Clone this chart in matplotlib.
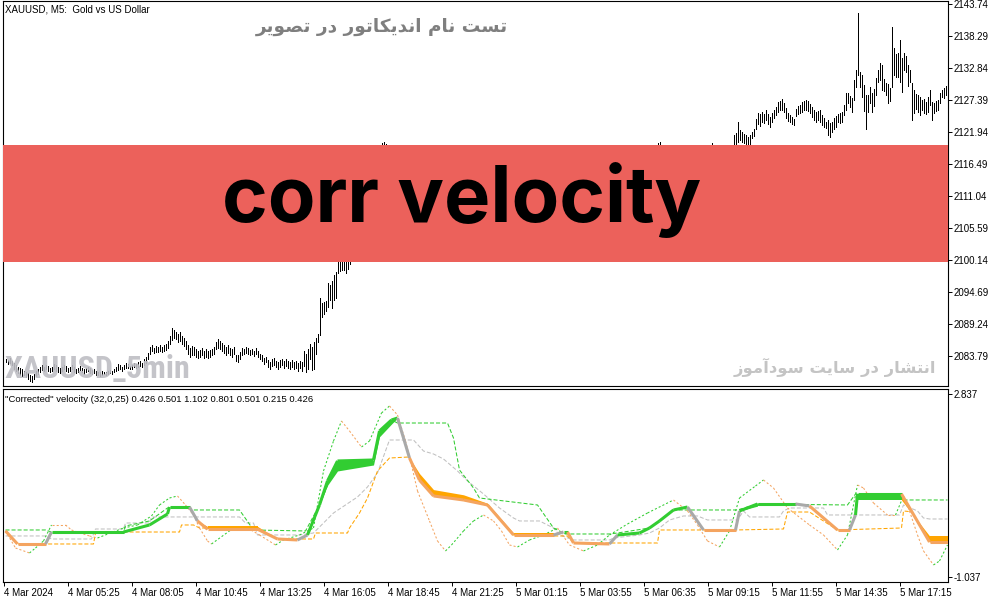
import matplotlib
matplotlib.use("Agg")
import matplotlib.pyplot as plt
from matplotlib.collections import LineCollection
from matplotlib.patches import Rectangle

plt.rcParams['font.family'] = ['Liberation Sans', 'DejaVu Sans']
plt.rcParams['lines.scale_dashes'] = False

# ---------------- data ----------------
price_ticks = [2143.74, 2138.29, 2132.84, 2127.39, 2121.94, 2116.49, 2111.04,
               2105.59, 2100.14, 2094.69, 2089.24, 2083.79]
vel_ticks = [2.837, -1.037]
time_labels = ['4 Mar 2024', '4 Mar 05:25', '4 Mar 08:05', '4 Mar 10:45', '4 Mar 13:25',
               '4 Mar 16:05', '4 Mar 18:45', '4 Mar 21:25', '5 Mar 01:15', '5 Mar 03:55',
               '5 Mar 06:35', '5 Mar 09:15', '5 Mar 11:55', '5 Mar 14:35', '5 Mar 17:15']
time_label_bars = [-1, 31, 63, 95, 127, 159, 191, 223, 255, 287, 319, 351, 383, 415, 447]

# M5 bars, first visible stretch (bars 0..175)
left_high = [
    2083.3, 2083.1, 2083.4, 2083.0, 2082.6, 2082.2, 2082.0, 2081.8, 2081.5, 2081.3, 2081.1, 2080.9, 2080.6, 2080.4, 2080.8, 2081.2,
    2081.6, 2081.9, 2082.2, 2082.0, 2082.3, 2082.1, 2081.8, 2082.0, 2082.4, 2082.2, 2081.9, 2081.7, 2082.0, 2082.3, 2082.1, 2081.8,
    2082.0, 2082.2, 2081.9, 2081.6, 2081.8, 2082.1, 2081.8, 2081.5, 2081.7, 2082.0, 2081.7, 2081.4, 2081.6, 2081.3, 2081.1, 2081.0,
    2081.2, 2081.1, 2081.0, 2081.2, 2081.4, 2081.3, 2081.5, 2081.9, 2082.4, 2082.2, 2082.0, 2082.3, 2082.6, 2082.4, 2082.1, 2082.3,
    2082.6, 2082.5, 2082.7, 2082.9, 2082.6, 2083.2, 2083.6, 2084.3, 2085.3, 2085.6, 2085.2, 2085.5, 2085.3, 2085.6, 2085.4, 2085.7,
    2085.9, 2086.4, 2087.2, 2088.6, 2088.2, 2087.9, 2087.6, 2087.8, 2087.2, 2086.8, 2086.3, 2085.7, 2085.2, 2085.5, 2085.3, 2085.0,
    2084.6, 2084.8, 2085.1, 2084.7, 2084.9, 2084.6, 2084.8, 2085.0, 2085.3, 2086.2, 2086.6, 2086.3, 2086.0, 2085.6, 2085.4, 2085.7,
    2085.2, 2084.9, 2085.3, 2084.0, 2083.9, 2084.5, 2085.2, 2085.0, 2085.3, 2085.1, 2084.8, 2085.0, 2084.7, 2085.1, 2084.6, 2084.2,
    2083.9, 2083.5, 2083.7, 2083.1, 2082.8, 2083.2, 2083.4, 2083.0, 2082.7, 2083.1, 2083.3, 2082.9, 2083.2, 2083.0, 2082.8, 2083.1,
    2082.7, 2082.9, 2082.6, 2083.0, 2082.8, 2084.6, 2084.2, 2084.9, 2085.8, 2085.4, 2086.1, 2086.9, 2087.5, 2093.6, 2092.9, 2093.0,
    2093.2, 2096.3, 2095.8, 2096.5, 2097.5, 2098.1, 2099.8, 2099.9, 2100.4, 2100.6, 2100.9, 2101.5, 2102.1, 2102.6, 2103.2, 2103.8]
left_low = [
    2082.7, 2082.4, 2082.6, 2082.2, 2081.6, 2081.2, 2080.9, 2080.6, 2080.4, 2080.5, 2080.2, 2079.9, 2079.5, 2079.3, 2079.8, 2080.3,
    2080.8, 2081.1, 2081.4, 2081.2, 2081.5, 2081.3, 2081.0, 2081.2, 2081.6, 2081.3, 2081.0, 2080.9, 2081.2, 2081.5, 2081.3, 2081.0,
    2081.3, 2081.5, 2081.1, 2080.9, 2081.0, 2081.4, 2081.1, 2080.8, 2081.0, 2081.2, 2080.9, 2080.7, 2080.9, 2080.6, 2080.5, 2080.4,
    2080.6, 2080.7, 2080.6, 2080.8, 2080.9, 2080.8, 2081.0, 2081.2, 2081.4, 2081.5, 2081.3, 2081.6, 2081.8, 2081.7, 2081.5, 2081.6,
    2081.9, 2081.8, 2082.0, 2082.1, 2081.9, 2082.3, 2082.6, 2083.2, 2084.2, 2084.6, 2084.3, 2084.5, 2084.4, 2084.7, 2084.5, 2084.6,
    2084.8, 2085.2, 2085.8, 2086.5, 2086.9, 2086.6, 2086.2, 2086.4, 2085.9, 2085.5, 2084.9, 2084.1, 2083.6, 2084.0, 2083.9, 2083.7,
    2083.5, 2083.6, 2083.9, 2083.5, 2083.7, 2083.4, 2083.6, 2083.9, 2084.2, 2084.9, 2085.2, 2084.9, 2084.6, 2084.3, 2084.0, 2084.3,
    2083.9, 2083.7, 2084.1, 2082.9, 2082.7, 2083.2, 2084.0, 2084.2, 2084.3, 2084.1, 2083.9, 2084.1, 2083.8, 2084.2, 2083.7, 2083.2,
    2082.9, 2082.4, 2082.7, 2082.0, 2081.6, 2082.1, 2082.3, 2081.9, 2081.5, 2082.0, 2082.2, 2081.8, 2082.1, 2081.8, 2081.6, 2082.0,
    2081.6, 2081.8, 2081.3, 2081.7, 2081.2, 2082.1, 2081.0, 2081.5, 2083.2, 2081.4, 2081.6, 2084.2, 2086.1, 2087.4, 2090.4, 2090.9,
    2091.5, 2092.1, 2093.4, 2091.9, 2093.3, 2093.6, 2097.9, 2098.3, 2098.5, 2098.4, 2097.9, 2098.6, 2099.5, 2099.9, 2100.8, 2101.2]

# bars behind the label band: only the tips that stick out are readable
mid_bars = [188, 189, 190, 326, 327, 353]
mid_high = [2120.0, 2120.2, 2119.9, 2120.0, 2120.2, 2120.1]
mid_low = [2117.2, 2117.8, 2117.5, 2117.4, 2117.9, 2117.6]

# last visible stretch (bars 364..471)
right_high = [
    2121.4, 2121.8, 2123.6, 2122.3, 2121.9, 2121.6, 2121.4, 2121.1, 2121.4, 2122.0, 2122.4, 2124.2, 2125.2, 2125.0, 2125.3, 2125.0,
    2125.7, 2125.0, 2124.5, 2125.2, 2125.7, 2126.2, 2127.1, 2127.3, 2127.6, 2126.9, 2126.0, 2125.2, 2124.8, 2124.5, 2124.2, 2125.9,
    2126.4, 2126.6, 2127.0, 2127.3, 2127.4, 2127.2, 2126.7, 2126.2, 2125.7, 2125.3, 2125.6, 2125.7, 2124.8, 2124.3, 2123.6, 2124.0,
    2123.5, 2123.7, 2124.3, 2124.6, 2125.0, 2125.2, 2125.4, 2126.5, 2128.6, 2128.6, 2128.0, 2127.7, 2130.8, 2132.5, 2142.2, 2132.2,
    2131.6, 2130.0, 2128.3, 2128.2, 2129.6, 2128.6, 2129.2, 2131.1, 2132.5, 2133.7, 2133.4, 2131.0, 2130.3, 2130.1, 2129.4, 2139.8,
    2136.3, 2135.2, 2135.4, 2137.6, 2134.5, 2135.4, 2134.9, 2133.3, 2132.5, 2130.3, 2129.1, 2128.4, 2128.2, 2127.9, 2127.4, 2127.6,
    2127.1, 2127.9, 2129.1, 2127.0, 2126.9, 2127.2, 2127.4, 2128.6, 2129.1, 2129.4, 2129.8, 2130.1]
right_low = [
    2119.7, 2119.8, 2120.2, 2120.6, 2120.3, 2120.1, 2119.9, 2119.8, 2119.7, 2120.9, 2121.3, 2122.5, 2123.3, 2123.0, 2123.6, 2123.4,
    2124.0, 2123.3, 2122.8, 2123.6, 2124.3, 2124.8, 2125.4, 2125.7, 2125.7, 2125.3, 2124.3, 2123.8, 2123.6, 2123.3, 2123.1, 2124.6,
    2125.0, 2125.2, 2125.4, 2125.7, 2125.7, 2125.5, 2125.2, 2124.5, 2124.0, 2123.6, 2124.0, 2123.6, 2123.2, 2122.8, 2122.6, 2121.4,
    2121.1, 2121.9, 2122.4, 2122.8, 2123.6, 2123.5, 2123.7, 2124.8, 2125.7, 2126.9, 2126.2, 2125.4, 2127.4, 2129.6, 2131.6, 2129.6,
    2127.9, 2125.5, 2122.5, 2125.3, 2126.9, 2125.3, 2126.3, 2128.2, 2130.5, 2130.8, 2129.1, 2128.9, 2128.2, 2126.9, 2127.3, 2129.6,
    2131.7, 2131.3, 2131.3, 2130.5, 2128.8, 2132.5, 2132.2, 2129.8, 2130.5, 2124.0, 2125.2, 2125.9, 2125.3, 2124.8, 2125.7, 2125.2,
    2125.0, 2125.4, 2126.5, 2124.0, 2125.2, 2125.5, 2125.7, 2126.9, 2127.9, 2127.7, 2128.2, 2128.7]
left_start = 0
right_start = 364

# "Corrected" velocity: main line, second edge of its band, segment state
vel_x = [0, 6, 20, 23, 59, 72, 81, 82, 92, 96, 101, 126, 136, 146, 151, 157, 161, 166,
         184, 187, 193, 196, 202, 207, 214, 229, 241, 254, 274, 279, 281, 284, 302, 306,
         317, 322, 327, 334, 341, 349, 365, 367, 376, 395, 402, 416, 422, 425, 426, 448,
         462, 471]
vel_val = [-0.067, -0.343, -0.343, -0.089, -0.089, 0.060, 0.293, 0.441, 0.441, 0.145,
           -0.03, -0.03, -0.237, -0.258, -0.152, 0.484, 0.993, 1.417, 1.438, 2.053,
           2.286, 2.328, 1.480, 1.01, 0.675, 0.59, 0.484, -0.152, -0.152, -0.089,
           -0.089, -0.322, -0.343, -0.152, -0.110, -0.004, 0.145, 0.378, 0.441, -0.046,
           -0.046, 0.357, 0.505, 0.505, 0.463, -0.046, -0.046, 0.272, 0.717, 0.717,
           -0.30, -0.30]
vel_alt = [-0.067, -0.343, -0.343, -0.089, -0.089, 0.060, 0.293, 0.441, 0.441, 0.145,
           0.03, 0.03, -0.237, -0.258, -0.152, 0.484, 0.90, 1.205, 1.332, 1.93,
           2.20, 2.328, 1.480, 1.15, 0.81, 0.70, 0.52, -0.11, -0.11, -0.089,
           -0.089, -0.322, -0.343, -0.152, -0.110, -0.004, 0.145, 0.378, 0.441, -0.046,
           -0.046, 0.357, 0.46, 0.46, 0.463, -0.046, -0.046, 0.272, 0.59, 0.59,
           -0.17, -0.17]
vel_state = "ooxgg" "gggxo" "oooxg" "ggggg" "gxooo" "oooxg" "ooxgg" "gggxo" "xggxo" "oxggo" "o"

# fast line
fast_x = [0, 5, 12, 15, 19, 23, 30, 33, 42, 46, 59, 66, 73, 77, 82, 86, 90, 94, 97, 101,
          103, 114, 121, 127, 135, 139, 147, 154, 159, 164, 168, 172, 178, 182, 188, 192,
          196, 200, 203, 206, 212, 216, 220, 223, 229, 234, 239, 244, 248, 252, 256, 262,
          269, 276, 282, 289, 296, 302, 311, 321, 334, 341, 346, 351, 357, 362, 367, 375,
          379, 384, 391, 402, 409, 416, 421, 426, 429, 434, 441, 445, 449, 452, 456, 459,
          464, 467, 471]
fast_val = [-0.067, -0.428, -0.534, -0.428, -0.279, 0.060, 0.060, -0.046, -0.173, -0.216,
            -0.004, 0.060, 0.251, 0.484, 0.632, 0.675, 0.484, 0.272, -0.004, -0.279,
            -0.343, -0.004, -0.004, -0.152, -0.364, -0.258, -0.152, -0.004, 1.205, 1.841,
            2.265, 2.053, 1.713, 1.841, 2.434, 2.583, 2.392, 1.841, 1.332, 0.781,
            0.145, -0.279, -0.491, -0.364, -0.067, 0.145, 0.272, 0.145, -0.067, -0.364,
            -0.407, -0.258, -0.152, -0.004, -0.364, -0.491, -0.364, -0.152, 0.081, 0.314,
            0.590, 0.357, 0.060, -0.279, -0.407, -0.067, 0.632, 0.887, 1.014, 0.844,
            0.420, 0.060, -0.152, -0.470, -0.152, 0.908, 0.844, 0.526, 0.272, 0.272,
            0.675, 0.357, -0.152, -0.491, -0.788, -0.703, -0.364]

# upper level
hi_x = [0, 20, 23, 59, 60, 72, 81, 92, 93, 117, 124, 150, 157, 166, 184, 187, 193, 196,
        221, 224, 227, 234, 237, 266, 274, 280, 302, 306, 322, 334, 366, 376, 421, 425,
        448, 449, 471]
hi_val = [-0.046, -0.046, -0.089, -0.089, 0.039, 0.145, 0.420, 0.441, 0.378, 0.378,
          -0.046, -0.067, 0.484, 1.417, 1.438, 2.053, 2.286, 2.222, 2.222, 1.904, 1.226,
          0.844, 0.632, 0.484, -0.004, -0.131, -0.131, -0.110, -0.004, 0.378, 0.378,
          0.505, 0.484, 0.717, 0.717, 0.590, 0.590]

# lower level
lo_x = [0, 6, 44, 45, 59, 87, 88, 94, 97, 126, 136, 154, 155, 171, 172, 177, 181, 186,
        192, 202, 207, 214, 229, 241, 254, 264, 281, 284, 326, 327, 365, 389, 391, 402,
        416, 448, 449, 453, 462, 471]
lo_val = [-0.067, -0.343, -0.343, -0.110, -0.089, -0.089, 0.060, 0.060, -0.004, -0.004,
          -0.237, -0.237, -0.110, -0.110, -0.004, 0.314, 0.632, 1.205, 1.480, 1.502,
          1.01, 0.675, 0.59, 0.484, -0.152, -0.173, -0.173, -0.322, -0.322, -0.046,
          -0.046, -0.025, 0.335, 0.335, -0.046, -0.004, 0.357, 0.340, -0.30, -0.30]

# middle level
mid_x = [0, 20, 23, 43, 45, 59, 60, 72, 73, 117, 120, 124, 126, 147, 154, 164, 176, 181,
         186, 192, 204, 209, 214, 219, 226, 231, 239, 247, 254, 257, 267, 274, 277, 284,
         302, 304, 317, 322, 327, 332, 339, 346, 351, 366, 369, 372, 387, 389, 392, 409,
         411, 447, 449, 456, 459, 462, 471]
mid_val = [-0.173, -0.173, -0.237, -0.237, -0.025, -0.025, 0.102, 0.102, 0.230, 0.230,
           0.102, 0.102, -0.152, -0.152, -0.110, 0.314, 0.654, 0.866, 1.163, 1.862, 1.862,
           1.628, 1.565, 1.459, 1.205, 0.993, 0.717, 0.420, 0.208, 0.145, 0.145, -0.004,
           -0.152, -0.258, -0.258, -0.216, -0.152, -0.110, -0.004, 0.166, 0.251, 0.251,
           0.166, 0.166, 0.357, 0.230, 0.230, 0.357, 0.420, 0.420, 0.272, 0.272, 0.484,
           0.357, 0.208, 0.187, 0.187]

# ---------------- persian text shaping (matplotlib has no RTL shaping) ----------------
FA_FORMS = {  # isolated, final, initial, medial
    '\u0627': ('\uFE8D', '\uFE8E', None, None),
    '\u0622': ('\uFE81', '\uFE82', None, None),
    '\u062A': ('\uFE95', '\uFE96', '\uFE97', '\uFE98'),
    '\u0633': ('\uFEB1', '\uFEB2', '\uFEB3', '\uFEB4'),
    '\u0634': ('\uFEB5', '\uFEB6', '\uFEB7', '\uFEB8'),
    '\u0635': ('\uFEB9', '\uFEBA', '\uFEBB', '\uFEBC'),
    '\u0646': ('\uFEE5', '\uFEE6', '\uFEE7', '\uFEE8'),
    '\u0645': ('\uFEE1', '\uFEE2', '\uFEE3', '\uFEE4'),
    '\u062F': ('\uFEA9', '\uFEAA', None, None),
    '\u0631': ('\uFEAD', '\uFEAE', None, None),
    '\u0632': ('\uFEAF', '\uFEB0', None, None),
    '\u0648': ('\uFEED', '\uFEEE', None, None),
    '\u06CC': ('\uFBFC', '\uFBFD', '\uFBFE', '\uFBFF'),
    '\u06A9': ('\uFB8E', '\uFB8F', '\uFB90', '\uFB91'),
}


def shape_fa(text):
    out = []
    for k, ch in enumerate(text):
        if ch not in FA_FORMS:
            out.append(ch)
            continue
        prev = text[k - 1] if k > 0 else ''
        nxt = text[k + 1] if k + 1 < len(text) else ''
        iso, fin, ini, med = FA_FORMS[ch]
        join_prev = prev in FA_FORMS and FA_FORMS[prev][2] is not None
        join_next = ini is not None and nxt in FA_FORMS
        if join_prev and join_next:
            out.append(med)
        elif join_prev:
            out.append(fin)
        elif join_next:
            out.append(ini)
        else:
            out.append(iso)
    return ''.join(reversed(out))


# ---------------- figure ----------------
W, H = 1003, 603
fig = plt.figure(figsize=(W / 100, H / 100), dpi=100)
fig.patch.set_facecolor('white')

ax_p = fig.add_axes([3 / W, 1 - 386 / H, 945 / W, 385 / H])
ax_v = fig.add_axes([3 / W, 1 - 582 / H, 945 / W, 193 / H])

for ax in (ax_p, ax_v):
    ax.set_xlim(-1.25, 471.25)
    for s in ax.spines.values():
        s.set_linewidth(0.8)
        s.set_color('black')
    ax.yaxis.tick_right()
    ax.tick_params(axis='y', direction='out', length=3, width=0.7, pad=0.8,
                   labelsize=7, colors='black')

ax_p.set_ylim(2078.68, 2144.25)
ax_v.set_ylim(-1.149, 2.943)

# price bars (1 px wide, 2 px apart)
bar_kw = dict(color='black', lw=0.6, antialiased=False, zorder=2)
ax_p.vlines(range(left_start, left_start + len(left_high)), left_low, left_high, **bar_kw)
ax_p.vlines(mid_bars, mid_low, mid_high, **bar_kw)
ax_p.vlines(range(right_start, right_start + len(right_high)), right_low, right_high, **bar_kw)

ax_p.set_yticks(price_ticks, [f'{v:.2f}' for v in price_ticks])
ax_p.set_xticks([])

# label band over the price chart
ax_p.add_patch(Rectangle((0, 0.322), 1, 0.304, transform=ax_p.transAxes,
                         facecolor='#EC615B', edgecolor='none', zorder=5))
ax_p.text(0.485, 0.426, 'corr velocity', transform=ax_p.transAxes, ha='center',
          va='baseline', fontsize=56, fontweight='bold', family=['Inter', 'DejaVu Sans'],
          color='black', zorder=6)

ax_p.text(0.002, 0.977, 'XAUUSD, M5:  Gold vs US Dollar', transform=ax_p.transAxes,
          ha='left', va='center', fontsize=7, color='black', zorder=7)
ax_p.text(0.002, 0.021, 'XAUUSD_5min', transform=ax_p.transAxes, ha='left',
          va='baseline', fontsize=23, fontweight='bold', fontstretch='condensed',
          family=['Roboto Condensed', 'Liberation Sans Narrow', 'Liberation Sans'],
          color='#BEBEC4', alpha=0.9, zorder=3)
ax_p.text(0.401, 0.9325, shape_fa('تست نام اندیکاتور در تصویر'), transform=ax_p.transAxes,
          ha='center', va='center', fontsize=13.3, fontweight='bold',
          family=['DejaVu Sans'], color='#7F7F7F', zorder=7)
ax_p.text(0.880, 0.047, shape_fa('انتشار در سایت سودآموز'), transform=ax_p.transAxes,
          ha='center', va='center', fontsize=11.8, fontweight='bold',
          family=['DejaVu Sans'], color='#C4C4C4', zorder=7)

# ---------------- indicator ----------------
GREEN, SANDY, ORANGE, SILVER, GRAY = '#32CD32', '#F4A460', '#FFA500', '#C0C0C0', '#A9A9A9'
thin = 0.75
dash = (0, (2.9, 1.45))

ax_v.plot(mid_x, mid_val, color=SILVER, lw=thin, ls=dash, zorder=2)
ax_v.plot(lo_x, lo_val, color=ORANGE, lw=thin, ls=dash, zorder=2)
ax_v.plot(hi_x, hi_val, color=GREEN, lw=thin, ls=dash, zorder=2)

segs, cols = [], []
for k in range(len(fast_x) - 1):
    segs.append([(fast_x[k], fast_val[k]), (fast_x[k + 1], fast_val[k + 1])])
    cols.append(GREEN if fast_val[k + 1] > fast_val[k] else SANDY)
ax_v.add_collection(LineCollection(segs, colors=cols, linewidths=thin,
                                   linestyles=[(0, (1.5, 1.5))], zorder=3))

line_col = {'g': GREEN, 'o': SANDY, 'x': GRAY}
fill_col = {'g': GREEN, 'o': ORANGE}
segs, cols = [], []
for k, st in enumerate(vel_state):
    xs = [vel_x[k], vel_x[k + 1]]
    if st in fill_col:
        ax_v.fill_between(xs, [vel_val[k], vel_val[k + 1]], [vel_alt[k], vel_alt[k + 1]],
                          color=fill_col[st], lw=0, zorder=4)
    segs.append([(vel_x[k], vel_val[k]), (vel_x[k + 1], vel_val[k + 1])])
    cols.append(line_col[st])
ax_v.add_collection(LineCollection(segs, colors=cols, linewidths=2.2, zorder=5,
                                   capstyle='butt', joinstyle='miter'))

ax_v.set_yticks(vel_ticks, [f'{v:.3f}' for v in vel_ticks])
ax_v.set_xticks(time_label_bars, time_labels)
ax_v.tick_params(axis='x', direction='out', length=3, width=0.7, pad=1.5,
                 labelsize=7, colors='black')
for lab in ax_v.get_xticklabels():
    lab.set_ha('left')

ax_v.text(0.002, 0.948, '"Corrected" velocity (32,0,25) 0.426 0.501 1.102 0.801 0.501 0.215 0.426',
          transform=ax_v.transAxes, ha='left', va='center', fontsize=6.8, color='black')

fig.savefig('out.png', dpi=100, facecolor='white')
